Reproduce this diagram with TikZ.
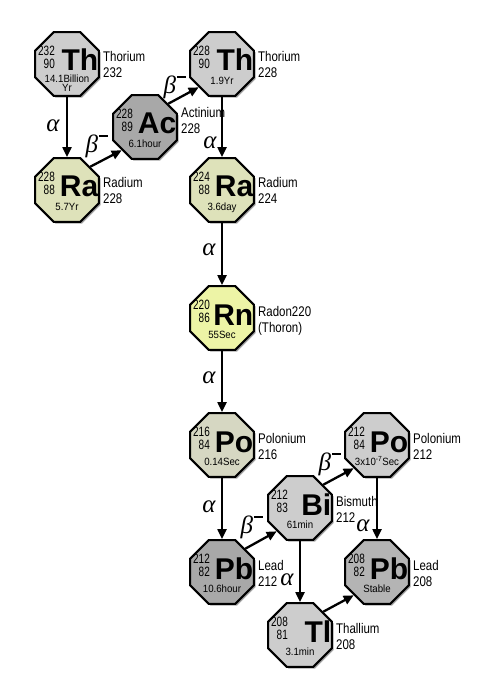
\documentclass[tikz,border=0pt]{standalone}
\usepackage{fontspec}
\setmainfont{Liberation Sans}
\newfontfamily\grkfont{Liberation Serif}
\usetikzlibrary{shapes.geometric,arrows.meta,shadows}
\definecolor{cgrey}{HTML}{CDCDCD}
\definecolor{cdark}{HTML}{A8A8A8}
\definecolor{cmid}{HTML}{B4B4B4}
\definecolor{cra}{HTML}{DEE2BA}
\definecolor{crn}{HTML}{EDF4A6}
\definecolor{cpo}{HTML}{D6D7C2}
\tikzset{
 oct/.style={regular polygon, regular polygon sides=8, minimum size=69pt, inner sep=0pt,
   draw=black, line width=2.2pt,
   drop shadow={shadow xshift=1.8pt, shadow yshift=-1.8pt, opacity=0.35, fill=black}},
 massno/.style={font=\fontsize{13.5}{13.5}\selectfont, anchor=base east, inner sep=0pt, xscale=0.74},
 sym/.style={font=\fontsize{30}{30}\selectfont\bfseries, anchor=base east, inner sep=0pt},
 half/.style={font=\fontsize{10.5}{10.5}\selectfont, anchor=base, inner sep=0pt, xscale=0.92},
 elname/.style={font=\fontsize{14}{14}\selectfont, anchor=base west, inner sep=0pt, xscale=0.82},
 arr/.style={line width=2.3pt, -{Triangle[length=10pt,width=9pt]}},
 dlabel/.style={font=\grkfont\itshape\fontsize{25}{25}\selectfont, inner sep=0pt}
}
\newcommand\bminus{β\kern0.05em\rule[0.62em]{0.36em}{0.055em}}
% name, position, colour, mass, Z, symbol, half-life
\newcommand\elem[7]{%
 \node[oct, fill=#3] (#1) at (#2) {};
 \path (#1.center) ++(-12,-8.5) node[massno] (#1-m) {#4};
 \path (#1.center) ++(-12,4.5) node[massno] (#1-z) {#5};
 \path (#1.center) ++(31.5,7) node[sym] (#1-s) {#6};
 \path (#1.center) ++(0,20.5) node[half] (#1-h) {#7};
}
\newcommand\elbl[4][-2]{%
 \path (#2.center) ++(36,#1) node[elname] (#2-l1) {#3} ++(0,16) node[elname] (#2-l2) {#4};
}
\begin{document}
\begin{tikzpicture}[x=1pt,y=-1pt]
\path[fill=white,use as bounding box] (0,0) rectangle (500,700);

\elem{Th1}{67,64}{cgrey}{232}{90}{Th}{}
\path (Th1.center) ++(0,18.5) node[half] (Th1-h) {14.1Billion};
\path (Th1.center) ++(0,28) node[half] (Th1-h2) {Yr};
\elem{Ra1}{67,190}{cra}{228}{88}{Ra}{5.7Yr}
\elem{Ac}{145,127}{cdark}{228}{89}{Ac}{6.1hour}
\elem{Th2}{222,64}{cgrey}{228}{90}{Th}{1.9Yr}
\elem{Ra2}{222,190}{cra}{224}{88}{Ra}{3.6day}
\elem{Rn}{222,318}{crn}{220}{86}{Rn}{55Sec}
\elem{Po1}{222,445}{cpo}{216}{84}{Po}{0.14Sec}
\elem{Pb1}{222,572}{cdark}{212}{82}{Pb}{10.6hour}
\elem{Bi}{300,508}{cgrey}{212}{83}{Bi}{61min}
\elem{Po2}{377,445}{cgrey}{212}{84}{Po}{3x10\textsuperscript{-7}Sec}
\elem{Pb2}{377,572}{cmid}{208}{82}{Pb}{Stable}
\elem{Tl}{300,635}{cgrey}{208}{81}{Tl}{3.1min}

\elbl{Th1}{Thorium}{232}
\elbl{Ra1}{Radium}{228}
\elbl[-9]{Ac}{Actinium}{228}
\elbl{Th2}{Thorium}{228}
\elbl{Ra2}{Radium}{224}
\elbl{Rn}{Radon220}{(Thoron)}
\elbl{Po1}{Polonium}{216}
\elbl{Pb1}{Lead}{212}
\elbl{Bi}{Bismuth}{212}
\elbl{Po2}{Polonium}{212}
\elbl{Pb2}{Lead}{208}
\elbl{Tl}{Thallium}{208}

\draw[arr] (Th1) -- (Ra1);
\draw[arr] (Ra1.45) -- (Ac.225);
\draw[arr] (Ac.45) -- (Th2.225);
\draw[arr] (Th2) -- (Ra2);
\draw[arr] (Ra2) -- (Rn);
\draw[arr] (Rn) -- (Po1);
\draw[arr] (Po1) -- (Pb1);
\draw[arr] (Pb1.45) -- (Bi.225);
\draw[arr] (Bi.45) -- (Po2.225);
\draw[arr] (Bi) -- (Tl);
\draw[arr] (Po2) -- (Pb2);
\draw[arr] (Tl.45) -- (Pb2.225);

\node[dlabel] (a1) at (53,126) {α};
\node[dlabel] (a2) at (210,143) {α};
\node[dlabel] (a3) at (209,250) {α};
\node[dlabel] (a4) at (209,378) {α};
\node[dlabel] (a5) at (209,507) {α};
\node[dlabel] (a6) at (287,580) {α};
\node[dlabel] (a7) at (363,526) {α};
\node[dlabel] (b1) at (97,146) {\bminus};
\node[dlabel] (b2) at (175,87) {\bminus};
\node[dlabel] (b3) at (252,527) {\bminus};
\node[dlabel] (b4) at (330,464) {\bminus};
\end{tikzpicture}
\end{document}
